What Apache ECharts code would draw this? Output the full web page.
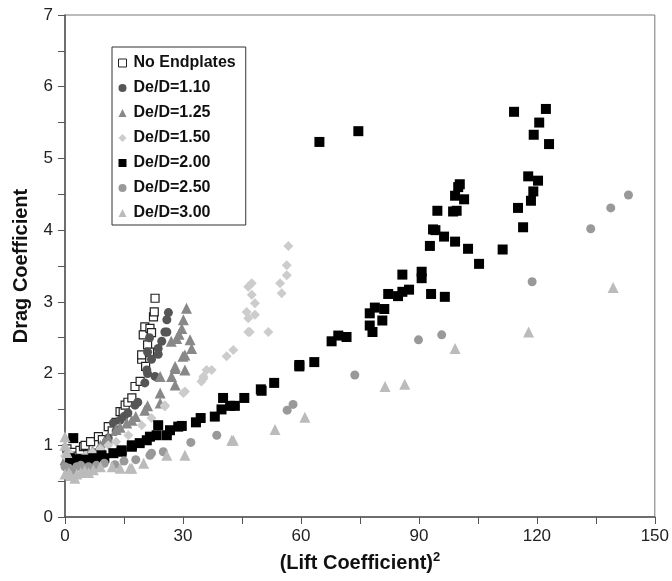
<!DOCTYPE html>
<html><head><meta charset="utf-8">
<script src="https://cdn.jsdelivr.net/npm/echarts@6/dist/echarts.min.js"></script>
<style>html,body{margin:0;padding:0;background:#fff}#c{width:672px;height:581px}</style>
</head><body><div id="c"></div>
<script>
const seriesNames = ['No Endplates','De/D=1.10','De/D=1.25','De/D=1.50','De/D=2.00','De/D=2.50','De/D=3.00'];
const xTicks = [0,30,60,90,120,150];
const yTicks = [0,1,2,3,4,5,6,7];

const noEndplates = [[0.5,0.95],[1,0.88],[1.5,0.82],[2,0.9],[3,0.85],[3.8,0.93],[4.7,0.98],[5.1,1.0],[6.5,1.05],[8.5,1.12],[9.5,1.08],[11,1.26],[12,1.2],[13,1.32],[14,1.47],[14.8,1.47],[15.3,1.56],[16,1.6],[17,1.66],[17.8,1.82],[19.1,1.89],[19.5,2.2],[19.5,2.26],[20.3,2.65],[19.9,2.54],[21.6,2.63],[22,2.57],[22.5,2.79],[22.7,2.86],[22.9,3.05],[21,2.4],[20.5,2.1],[21.5,2.3]];
const de110 = [[0.5,0.8],[1,0.75],[2,0.78],[3,0.72],[4,0.75],[5,0.78],[6,0.8],[7,0.85],[8,0.9],[9,0.95],[10.5,1.05],[11,1.1],[12.3,1.31],[13,1.2],[14,1.35],[15,1.4],[16,1.45],[17.8,1.56],[18.5,1.6],[20.3,1.87],[20.8,2.05],[21,2.3],[21.5,2.5],[22.9,1.96],[23.7,2.27],[23.7,2.35],[24.6,2.45],[25.4,2.58],[25.9,2.58],[25.9,2.75],[26.3,2.85],[22,2.2],[21,2.0]];
const de125 = [[0,0.8],[1,0.78],[2,0.72],[3,0.75],[4,0.8],[5,0.82],[6,0.88],[7,0.92],[9,1.0],[10,1.05],[11,1.1],[13,1.22],[14,1.25],[15.7,1.31],[17,1.35],[18,1.4],[20.3,1.49],[21,1.55],[24.2,1.59],[24.2,1.73],[24.2,1.96],[27.1,1.96],[28,1.84],[28,2.07],[28,2.1],[30.5,2.05],[30,2.24],[30.5,2.26],[32.2,2.35],[28.4,2.49],[31.8,2.47],[29.7,2.63],[30.1,2.75],[30.9,2.91],[29,2.55],[27,2.45]];
const de150 = [[0,0.85],[1,0.9],[2,0.82],[3,0.8],[4,0.78],[5,0.85],[7,0.9],[9,0.95],[11,1.0],[13,1.05],[16.1,1.14],[19.5,1.28],[22,1.38],[25.4,1.54],[25.4,1.56],[30.1,1.73],[30.5,1.75],[34.7,1.89],[35.2,1.93],[35.2,1.96],[36,2.05],[37.3,2.05],[41.1,2.24],[42.8,2.33],[46.6,2.58],[47,2.58],[51.7,2.58],[46.6,2.77],[48.3,2.82],[46.2,2.86],[48.3,2.98],[47.5,3.1],[46.6,3.21],[47.5,3.26],[55.1,3.12],[54.7,3.26],[56.4,3.37],[56.4,3.51],[56.8,3.78]];
const de200 = [[1.3,0.82],[2.1,1.1],[2,0.78],[3,0.8],[3.5,0.75],[4,0.77],[5,0.8],[5.5,0.76],[6,0.78],[7.2,0.82],[8,0.78],[9.3,0.86],[10,0.82],[12.3,0.89],[14.4,0.91],[14.4,0.93],[17,0.98],[17,1.0],[19,1.03],[20.8,1.07],[21.6,1.12],[23.3,1.14],[25.9,1.14],[23.7,1.28],[26.7,1.21],[28.8,1.26],[29.7,1.27],[33.3,1.32],[34.5,1.38],[38.1,1.4],[39.8,1.5],[42,1.55],[43.2,1.55],[40.2,1.66],[45.6,1.66],[49.8,1.78],[50,1.76],[53.2,1.87],[59.6,2.1],[59.6,2.12],[63.4,2.16],[67.8,2.45],[69.5,2.53],[71.6,2.51],[77.5,2.67],[78.2,2.58],[80.7,2.74],[77.5,2.84],[78.8,2.92],[81.2,2.9],[82.2,3.11],[84.7,3.08],[85.8,3.14],[87.5,3.17],[85.8,3.38],[90.7,3.42],[90.7,3.33],[93.1,3.11],[96.6,3.07],[92.8,3.78],[93.6,4.01],[94.2,4.0],[96.4,3.91],[99.2,3.84],[102.5,3.74],[105.3,3.53],[111.3,3.73],[94.7,4.27],[98.7,4.26],[99.6,4.27],[99.2,4.48],[101.5,4.43],[100,4.6],[100.4,4.64],[64.7,5.23],[74.6,5.38],[115.2,4.31],[116.5,4.04],[118.5,4.41],[119.1,4.54],[117.8,4.75],[120.3,4.69],[114.2,5.65],[122.3,5.69],[120.6,5.5],[119.2,5.33],[123.1,5.2]];
const de250 = [[0,0.7],[1,0.68],[2,0.65],[3,0.7],[4,0.72],[5,0.68],[6,0.7],[8,0.72],[10,0.75],[12.7,0.73],[15,0.78],[18,0.8],[22,0.89],[21.6,0.86],[25,0.91],[32,1.04],[38.6,1.14],[56.5,1.49],[58,1.57],[73.7,1.98],[89.9,2.47],[95.8,2.54],[118.8,3.28],[133.7,4.02],[138.8,4.31],[143.3,4.49]];
const de300 = [[0,1.12],[0,1.0],[0.5,0.9],[0,0.6],[1,0.62],[1.5,0.58],[2.5,0.54],[3,0.6],[4,0.62],[5,0.65],[6,0.62],[7.2,0.66],[9,0.7],[12,0.7],[14,0.68],[16.5,0.68],[17,0.68],[20,0.75],[25.9,0.86],[30.5,0.86],[42.4,1.07],[42.8,1.07],[53.4,1.22],[61,1.39],[81.4,1.82],[86.4,1.85],[99.2,2.35],[117.9,2.58],[139.4,3.2]];

const dataSets = [noEndplates, de110, de125, de150, de200, de250, de300];
const symbols = ['rect','circle','triangle','diamond','rect','circle','triangle'];
const sizes = [8,9,11,10,10,9,11];
const colors = ['#ffffff','#555555','#888888','#cccccc','#000000','#999999','#bbbbbb'];

const font = 'Liberation Sans, Arial, sans-serif';
const chart = echarts.init(document.getElementById('c'), null, {renderer:'canvas'});
const series = seriesNames.map((n,i)=>({
  name:n, type:'scatter', data:dataSets[i], symbol:symbols[i], symbolSize:sizes[i],
  itemStyle: i===0 ? {color:'#ffffff', borderColor:'#222', borderWidth:1.2, opacity:1} : {color:colors[i], opacity:1},
  emphasis:{disabled:true}
}));
chart.setOption({
  animation:false,
  backgroundColor:'#fff',
  grid:{left:65,right:17,top:15,bottom:64,show:true,borderColor:'#777',borderWidth:1,containLabel:false},
  legend:{
    orient:'vertical', left:112, top:47, padding:[8,10,4,6], itemGap:9,
    itemWidth:8, itemHeight:8, borderColor:'#333', borderWidth:1, backgroundColor:'#fff',
    textStyle:{fontFamily:font, fontSize:16, fontWeight:'bold', color:'#111', lineHeight:16, padding:[0,0,0,2]},
    data: seriesNames.map((n,i)=>({name:n, icon:symbols[i], itemStyle: i===0?{color:'#fff',borderColor:'#222',borderWidth:1,opacity:1}:{color:colors[i],opacity:1}}))
  },
  xAxis:{
    type:'value', min:xTicks[0], max:xTicks[xTicks.length-1], interval:30,
    name:'{a|(Lift Coefficient)}{s|2}', nameLocation:'middle', nameGap:34,
    nameTextStyle:{rich:{a:{fontFamily:font,fontSize:20,fontWeight:'bold',color:'#111'},s:{fontFamily:font,fontSize:13,fontWeight:'bold',color:'#111',padding:[0,0,12,0]}}},
    axisLine:{show:true,lineStyle:{color:'#555',width:1.5}},
    axisTick:{show:true,inside:false,length:7,lineStyle:{color:'#555'}},
    minorTick:{show:true,splitNumber:2,length:7,lineStyle:{color:'#555'}},
    axisLabel:{fontFamily:font,fontSize:17,color:'#222',margin:11},
    splitLine:{show:false}
  },
  yAxis:{
    type:'value', min:yTicks[0], max:yTicks[yTicks.length-1], interval:1,
    name:'Drag Coefficient', nameLocation:'middle', nameGap:34, nameRotate:90,
    nameTextStyle:{fontFamily:font,fontSize:20,fontWeight:'bold',color:'#111'},
    axisLine:{show:true,lineStyle:{color:'#555',width:1.5}},
    axisTick:{show:true,inside:false,length:7,lineStyle:{color:'#555'}},
    minorTick:{show:true,splitNumber:2,length:7,lineStyle:{color:'#555'}},
    axisLabel:{fontFamily:font,fontSize:17,color:'#222',margin:12},
    splitLine:{show:false}
  },
  series: series
});
</script></body></html>
